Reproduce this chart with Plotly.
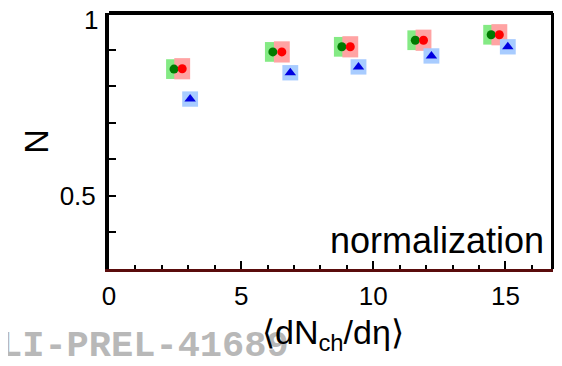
import plotly.graph_objects as go

# data
green_x = [2.46, 6.20, 8.81, 11.59, 14.46]
green_y = [0.847, 0.894, 0.908, 0.926, 0.941]
green_sx = [0.30, 0.30, 0.30, 0.30, 0.30]
green_sy = [0.027, 0.027, 0.027, 0.027, 0.027]

red_x = [2.77, 6.54, 9.13, 11.90, 14.77]
red_y = [0.848, 0.894, 0.908, 0.926, 0.941]
red_sx = [0.30, 0.30, 0.30, 0.30, 0.30]
red_sy = [0.029, 0.029, 0.029, 0.029, 0.029]

blue_x = [3.07, 6.86, 9.44, 12.20, 15.09]
blue_y = [0.765, 0.837, 0.853, 0.883, 0.908]
blue_sx = [0.30, 0.30, 0.30, 0.30, 0.30]
blue_sy = [0.021, 0.021, 0.021, 0.021, 0.021]

y_ticks = [0.3, 0.4, 0.5, 0.6, 0.7, 0.8, 0.9, 1.0]
y_ticktext = ["", "", "0.5", "", "", "", "", ""]
y_top_label = "1"
x_ticks = [0, 5, 10, 15]

fig = go.Figure()

def add_boxes(xs, ys, sxs, sys_, color):
    for x, y, sx, sy in zip(xs, ys, sxs, sys_):
        fig.add_shape(type="rect", xref="x", yref="y",
                      x0=x - sx, x1=x + sx, y0=y - sy, y1=y + sy,
                      fillcolor=color, line=dict(width=0), layer="below")

add_boxes(green_x, green_y, green_sx, green_sy, "#84ea84")
add_boxes(red_x, red_y, red_sx, red_sy, "#ffa3a3")
add_boxes(blue_x, blue_y, blue_sx, blue_sy, "#a8ccff")

fig.add_trace(go.Scatter(x=green_x, y=green_y, mode="markers",
                         marker=dict(symbol="circle", size=9, color="#007a00"),
                         showlegend=False))
fig.add_trace(go.Scatter(x=red_x, y=red_y, mode="markers",
                         marker=dict(symbol="circle", size=9, color="#ff0000"),
                         showlegend=False))
fig.add_trace(go.Scatter(x=blue_x, y=blue_y, mode="markers",
                         marker=dict(symbol="triangle-up", size=10, color="#0000e0"),
                         showlegend=False))

fig.update_layout(
    width=554, height=358,
    margin=dict(l=101, r=9, t=5, b=97),
    paper_bgcolor="white", plot_bgcolor="white",
    font=dict(family="Liberation Sans, Arial", color="black", size=26),
    xaxis=dict(range=[0, 16.8], tickvals=x_ticks, ticks="inside", ticklen=8,
               tickwidth=2, tickcolor="black", showgrid=False, zeroline=False,
               showline=True, linecolor="#5a0c0c", linewidth=3, automargin=False,
               tickfont=dict(size=26), ticklabelstandoff=2,
               ticklabeloverflow="allow",
               minor=dict(dtick=1, ticks="inside", ticklen=4, tickwidth=2,
                          tickcolor="black", showgrid=False)),
    yaxis=dict(range=[0.3, 1.0005], tickvals=y_ticks, ticktext=y_ticktext,
               ticks="inside", ticklen=7, tickwidth=2, tickcolor="black",
               showgrid=False, zeroline=False, showline=True, linecolor="black",
               linewidth=4, tickfont=dict(size=26), ticklabelstandoff=4,
               ticklabeloverflow="allow", automargin=False),
)

# top and right frame lines
fig.add_shape(type="line", xref="paper", yref="paper", x0=0, x1=1, y0=1, y1=1,
              line=dict(color="black", width=4))
fig.add_shape(type="line", xref="paper", yref="paper", x0=1, x1=1, y0=0, y1=1,
              line=dict(color="black", width=4))

# watermark first so the axis title is drawn over it
fig.add_annotation(text="<b>LI-PREL-41689</b>", xref="paper", yref="paper",
                   x=-0.25, y=-0.211, xanchor="left", yanchor="top",
                   showarrow=False,
                   font=dict(family="Liberation Mono, Courier New", size=37,
                             color="#b8b8b8"))

# top y label "1"
fig.add_annotation(text=y_top_label, xref="paper", yref="paper",
                   x=-0.0405, y=0.972, xanchor="center", yanchor="middle",
                   showarrow=False, font=dict(size=26, color="black"))

fig.add_annotation(text="N", xref="paper", yref="paper",
                   x=-0.165, y=0.50, xanchor="center", yanchor="middle",
                   textangle=-90, showarrow=False, font=dict(size=34, color="black"))

fig.add_annotation(text="normalization", xref="paper", yref="paper",
                   x=0.985, y=0.11, xanchor="right", yanchor="middle",
                   showarrow=False, font=dict(size=36, color="black"))

fig.add_annotation(text="⟨dN<sub>ch</sub>/dη⟩", xref="paper", yref="paper",
                   x=0.505, y=-0.165, xanchor="center", yanchor="top",
                   showarrow=False, font=dict(size=34, color="black"))

fig.write_html("out.html")
